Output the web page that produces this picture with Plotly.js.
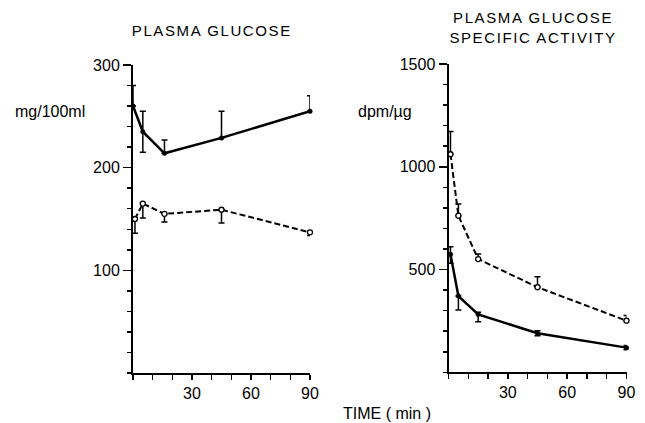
<!DOCTYPE html>
<html>
<head>
<meta charset="utf-8">
<script src="https://cdn.plot.ly/plotly-3.0.1.min.js"></script>
<style>
html,body{margin:0;padding:0;background:#fff;}
#chart{width:645px;height:423px;}
.annotation[data-index="0"] text, .annotation[data-index="1"] text{letter-spacing:1.6px;}
</style>
</head>
<body>
<div id="chart"></div>
<script>
// ---- data ----
// Left panel: plasma glucose (mg/100ml)
const glucTimeSolid = [0, 5, 16, 45, 90];
const glucSolid = [260, 235, 214, 229, 255];
const glucSolidErrPlus = [20, 20, 13, 26, 15];
const glucSolidErrMinus = [0, 20, 0, 0, 0];

const glucTimeDashed = [1, 5, 16, 45, 90];
const glucDashed = [150, 165, 155, 159, 137];
const glucDashedErrPlus = [0, 0, 0, 0, 0];
const glucDashedErrMinus = [14, 14, 8, 13, 3];

// Right panel: plasma glucose specific activity (dpm/µg)
const saTime = [1, 5, 15, 45, 90];
const saDashed = [1061, 762, 551, 414, 251];
const saDashedErrPlus = [110, 57, 25, 51, 25];
const saDashedErrMinus = [0, 0, 0, 0, 0];

const saSolid = [574, 371, 282, 190, 120];
const saSolidErrPlus = [37, 0, 10, 12, 10];
const saSolidErrMinus = [43, 68, 36, 12, 10];

const xTickVals = [30, 60, 90];
const glucTickVals = [100, 200, 300];
const saTickVals = [500, 1000, 1500];

// ---- traces ----
function errY(plus, minus) {
  return {type: 'data', symmetric: false, array: plus, arrayminus: minus,
          color: '#000', thickness: 1.5, width: 3, visible: true};
}
const solidLine = {color: '#000', width: 2.5};
const dashedLine = {color: '#000', width: 2, dash: '6px,3px'};
const filledMarker = {symbol: 'circle', size: 5, color: '#000'};
const openMarker = {symbol: 'circle', size: 5, color: '#fff', line: {color: '#000', width: 1.3}};

const traces = [
  {x: glucTimeSolid, y: glucSolid, xaxis: 'x', yaxis: 'y', mode: 'lines+markers',
   line: solidLine, marker: filledMarker, error_y: errY(glucSolidErrPlus, glucSolidErrMinus), cliponaxis: false},
  {x: glucTimeDashed, y: glucDashed, xaxis: 'x', yaxis: 'y', mode: 'lines+markers',
   line: dashedLine, marker: openMarker, error_y: errY(glucDashedErrPlus, glucDashedErrMinus), cliponaxis: false},
  {x: saTime, y: saDashed, xaxis: 'x2', yaxis: 'y2', mode: 'lines+markers',
   line: dashedLine, marker: openMarker, error_y: errY(saDashedErrPlus, saDashedErrMinus), cliponaxis: false},
  {x: saTime, y: saSolid, xaxis: 'x2', yaxis: 'y2', mode: 'lines+markers',
   line: solidLine, marker: filledMarker, error_y: errY(saSolidErrPlus, saSolidErrMinus), cliponaxis: false}
];

const FONT = {family: 'Liberation Sans, Arial, sans-serif', size: 16, color: '#000'};
const TITLE_FONT = {family: 'Liberation Sans, Arial, sans-serif', size: 15, color: '#000'};

function xAxis(domain, anchor) {
  return {domain: domain, anchor: anchor, range: [0, 90], showgrid: false, zeroline: false,
    showline: true, linecolor: '#000', linewidth: 1.8,
    tickmode: 'array', tickvals: xTickVals, ticks: 'outside', ticklen: 5, tickwidth: 1.5, tickcolor: '#000',
    minor: {tickmode: 'linear', tick0: 0, dtick: 10, ticks: 'outside', ticklen: 5, tickwidth: 1.5, tickcolor: '#000'},
    tickfont: FONT, fixedrange: true};
}
function yAxis(domain, anchor, range, tickvals, minorStep) {
  return {domain: domain, anchor: anchor, range: range, showgrid: false, zeroline: false,
    showline: true, linecolor: '#000', linewidth: 2,
    tickmode: 'array', tickvals: tickvals, ticks: 'outside', ticklen: 8, tickwidth: 1.5, tickcolor: '#000',
    minor: {tickmode: 'linear', tick0: 0, dtick: minorStep, ticks: 'outside', ticklen: 4, tickwidth: 1.5, tickcolor: '#000'},
    tickfont: FONT, fixedrange: true};
}

const layout = {
  width: 645, height: 423,
  margin: {l: 0, r: 0, t: 0, b: 0},
  paper_bgcolor: '#fff', plot_bgcolor: '#fff',
  showlegend: false,
  font: FONT,
  xaxis: xAxis([133/645, 310/645], 'y'),
  yaxis: yAxis([50/423, 358/423], 'x', [0, 300], glucTickVals, 20),
  xaxis2: xAxis([448.5/645, 626.5/645], 'y2'),
  yaxis2: yAxis([50.7/423, 359/423], 'x2', [0, 1500], saTickVals, 100),
  annotations: [
    {text: 'PLASMA GLUCOSE', xref: 'paper', yref: 'paper', x: 212/645, y: 1 - 31/423,
     xanchor: 'center', yanchor: 'middle', showarrow: false, font: TITLE_FONT},
    {text: 'PLASMA GLUCOSE<br>SPECIFIC ACTIVITY', xref: 'paper', yref: 'paper', x: 533/645, y: 1 - 28/423,
     xanchor: 'center', yanchor: 'middle', showarrow: false, font: TITLE_FONT},
    {text: 'mg/100ml', xref: 'paper', yref: 'paper', x: 87/645, y: 1 - 111/423,
     xanchor: 'right', yanchor: 'middle', showarrow: false, font: FONT},
    {text: 'dpm/µg', xref: 'paper', yref: 'paper', x: 414/645, y: 1 - 111/423,
     xanchor: 'right', yanchor: 'middle', showarrow: false, font: FONT},
    {text: 'TIME ( min )', xref: 'paper', yref: 'paper', x: 387/645, y: 1 - 413/423,
     xanchor: 'center', yanchor: 'middle', showarrow: false, font: FONT}
  ]
};

Plotly.newPlot('chart', traces, layout, {staticPlot: true, displayModeBar: false});
</script>
</body>
</html>
